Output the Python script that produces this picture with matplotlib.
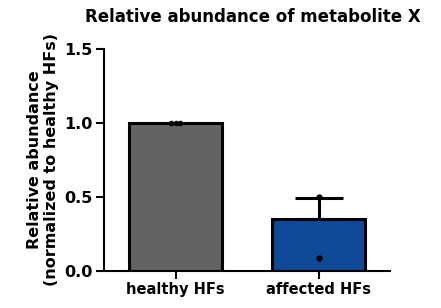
import matplotlib
matplotlib.use("Agg")
import matplotlib.pyplot as plt
import numpy as np

categories = ["healthy HFs", "affected HFs"]
means = [1.0, 0.35]
errors = [0.0, 0.145]
points_healthy = [1.0, 1.0, 1.0]
points_affected = [0.50, 0.09]
colors = ["#636363", "#0E4A97"]
title = "Relative abundance of metabolite X"
ylabel = "Relative abundance\n(normalized to healthy HFs)"
yticks = [0.0, 0.5, 1.0, 1.5]

plt.rcParams['font.family'] = ['DejaVu Sans']
plt.rcParams['font.weight'] = 'bold'

fig = plt.figure(figsize=(4.41, 3.08), dpi=100)
ax = fig.add_axes([104/441, 37/308, 286/441, 222/308])

x = np.arange(len(categories))
ax.bar(x, means, width=0.65, color=colors, edgecolor="black", linewidth=2.2, zorder=2)
for xi, m, e in zip(x, means, errors):
    if e > 0:
        ax.errorbar(xi, m, yerr=[[0], [e]], fmt='none', ecolor='black', elinewidth=2.2,
                    capsize=17, capthick=2.2, zorder=3)
offs_h = [-0.03, 0.0, 0.03]
for o, v in zip(offs_h, points_healthy):
    ax.plot(x[0] + o, v, 'o', color='black', markersize=3, zorder=4)
for v in points_affected:
    ax.plot(x[1], v, 'o', color='black', markersize=3.5, zorder=4)

ax.set_xlim(-0.5, 1.5)
ax.set_ylim(0, 1.5)
ax.set_yticks(yticks)
ax.set_yticklabels([f"{t:.1f}" for t in yticks], fontsize=11.5, fontweight='bold')
ax.set_xticks(x)
ax.set_xticklabels(categories, fontsize=10.5, fontweight='bold')
ax.spines['top'].set_visible(False)
ax.spines['right'].set_visible(False)
ax.spines['left'].set_linewidth(1.5)
ax.spines['bottom'].set_linewidth(1.5)
ax.tick_params(width=1.5, length=6, pad=2)
ax.set_ylabel(ylabel, fontsize=11.5, fontweight='bold', labelpad=4, linespacing=1.2)
fig.text(0.574, 0.945, title, ha='center', va='center', fontsize=12, fontweight='bold')

fig.savefig("out.png", dpi=100)
